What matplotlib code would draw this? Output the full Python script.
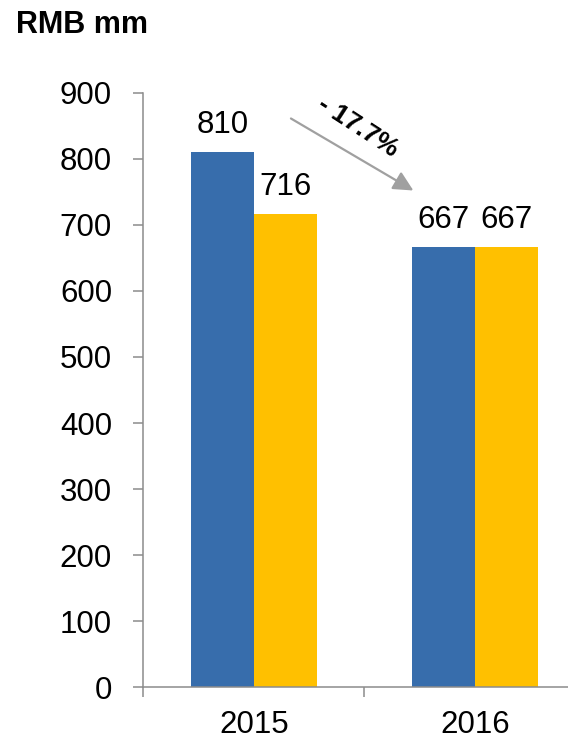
"""
Revenue comparison bar chart, 2015 vs 2016 (RMB mm).
"""

import matplotlib
import matplotlib.pyplot as plt
import numpy as np
from matplotlib.ticker import FixedLocator

matplotlib.use("Agg")
matplotlib.rcParams["font.family"] = ["Liberation Sans", "DejaVu Sans"]

years = ["2015", "2016"]
series_a = [810, 667]
series_b = [716, 667]
change_text = "- 17.7%"

color_a = "#376DAC"
color_b = "#FFC000"
axis_color = "#8C8C8C"


def plot_revenue(save_path: str = "out.png") -> None:
    figure = plt.figure(figsize=(5.68, 7.4), dpi=100)
    axis = figure.add_axes([0.2523, 0.0712, 0.7477, 0.8035])

    positions = np.arange(len(years))
    bar_width = 0.284

    bars_a = axis.bar(positions - bar_width / 2, series_a, bar_width, color=color_a)
    bars_b = axis.bar(positions + bar_width / 2, series_b, bar_width, color=color_b)

    # value labels above each bar
    for bars, values in ((bars_a, series_a), (bars_b, series_b)):
        for bar, value in zip(bars, values):
            axis.annotate(
                f"{value}",
                xy=(bar.get_x() + bar.get_width() / 2, value),
                xytext=(0, 13.7),
                textcoords="offset points",
                ha="center",
                va="baseline",
                fontsize=22.5,
            )

    axis.set_xlim(-0.5, 1.4217)
    axis.set_ylim(0, 900)
    axis.set_yticks(np.arange(0, 901, 100))

    # category boundaries carry the tick marks, labels sit at the centres
    axis.xaxis.set_major_locator(FixedLocator([-0.5, 0.5, 1.5]))
    axis.xaxis.set_major_formatter(plt.NullFormatter())
    axis.xaxis.set_minor_locator(FixedLocator(positions))
    axis.set_xticklabels(years, minor=True)
    axis.tick_params(axis="x", which="major", length=7.2, width=1.1,
                     color=axis_color, direction="out")
    axis.tick_params(axis="x", which="minor", length=0, pad=16,
                     labelsize=22.5)
    axis.tick_params(axis="y", length=7.2, width=1.1, color=axis_color,
                     direction="out", pad=15.3, labelsize=22.5)

    for side in ("top", "right"):
        axis.spines[side].set_visible(False)
    for side in ("left", "bottom"):
        axis.spines[side].set_color(axis_color)
        axis.spines[side].set_linewidth(1.1)

    # year-on-year change arrow
    axis.annotate(
        "",
        xy=(0.722, 752),
        xytext=(0.168, 861),
        arrowprops=dict(
            arrowstyle="-|>,head_length=0.6,head_width=0.3",
            mutation_scale=20,
            color="#A0A0A0",
            linewidth=1.6,
            shrinkA=0,
            shrinkB=0,
        ),
    )
    axis.text(
        0.4715,
        848,
        change_text,
        rotation=-33,
        rotation_mode="anchor",
        ha="center",
        va="center",
        fontsize=19,
        fontweight="bold",
    )

    figure.text(16 / 568, 1 - 33.3 / 740, "RMB mm", fontsize=22,
                fontweight="bold", ha="left", va="baseline")

    figure.savefig(save_path, dpi=100)
    plt.close(figure)


if __name__ == "__main__":
    plot_revenue()
